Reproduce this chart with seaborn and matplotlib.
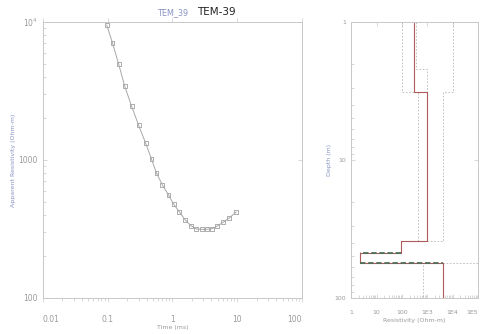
import numpy as np
import pandas as pd
import seaborn as sns
import matplotlib.pyplot as plt
from matplotlib.ticker import LogLocator, NullFormatter

# sounding curve (apparent resistivity vs time)
TIME_MS = [0.097, 0.119, 0.148, 0.183, 0.234, 0.30, 0.385, 0.475, 0.567, 0.70,
           0.87, 1.04, 1.28, 1.58, 1.96, 2.34, 2.9, 3.45, 4.12, 4.92, 6.09, 7.53, 9.65]
RHO_APP = [9510, 7040, 4960, 3440, 2460, 1790, 1330, 1015, 805, 659,
           557, 480, 420, 367, 332, 316, 314, 315, 318, 332, 354, 380, 420]

# layered model (resistivity per layer, depth of layer tops)
LAYER_TOPS = [1, 3.2, 38.5, 47, 55.6]
RHO_BEST = [300, 1000, 90, 2.3, 4000]
RHO_LOW = [100, 440, 90, 2.3, 700]
RHO_HIGH = [10000, 4000, 90, 2.3, 100000]
RHO_ALT = [370, 1000, 90, 2.3, 4000]
ALT_TOPS = [1, 2.2, 38.5, 47, 55.6]
MAX_DEPTH = 100

X_TICKS_L = [0.01, 0.1, 1, 10, 100]
X_LABELS_L = ["0.01", "0.1", "1", "10", "100"]
X_TICKS_R = [1, 10, 100, 1000, 10000, 100000]
X_LABELS_R = ["1", "10", "100", "1E3", "1E4", "1E5"]

SPINE = "#c8c8c8"
TXT = "#9a9a9a"
LBL = "#8a93c4"


def steps(rho, tops, bottom=MAX_DEPTH):
    xs, ys = [], []
    edges = list(tops) + [bottom]
    for i, r in enumerate(rho):
        xs += [r, r]
        ys += [edges[i], edges[i + 1]]
    return pd.DataFrame({"rho": xs, "depth": ys})


def style_axes(ax):
    ax.tick_params(which="both", top=True, right=True, direction="in", color=SPINE,
                   labelcolor=TXT, length=3, width=0.5)
    ax.tick_params(which="minor", length=2, top=False, right=False)
    ax.tick_params(axis="x", which="major", pad=9)
    for s in ax.spines.values():
        s.set_color(SPINE)
        s.set_linewidth(0.7)


sns.set_style("ticks")
plt.rcParams["font.family"] = ["DejaVu Sans"]

fig = plt.figure(figsize=(4.81, 3.34), dpi=100)
ax1 = fig.add_axes([0.089, 0.108, 0.539, 0.826])
ax2 = fig.add_axes([0.730, 0.108, 0.264, 0.826])

# left panel
curve = pd.DataFrame({"t": TIME_MS, "rho": RHO_APP})
sns.lineplot(data=curve, x="t", y="rho", ax=ax1, color="#a8a8a8", lw=0.7, sort=True)
sns.scatterplot(data=curve, x="t", y="rho", ax=ax1, marker="s", s=8,
                facecolor="none", edgecolor="#a0a0a0", linewidth=0.6)
ax1.set_xscale("log")
ax1.set_yscale("log")
ax1.set_xlim(0.01, 100)
ax1.set_ylim(100, 10000)
ax1.set_xticks(X_TICKS_L)
ax1.set_xticklabels(X_LABELS_L)
ax1.set_yticks([100, 1000, 10000])
ax1.set_yticklabels(["100", "1000", "10$^4$"])
ax1.set_xlabel("Time (ms)", fontsize=4.5, color=TXT, labelpad=1)
ax1.set_ylabel("Apparent Resistivity (Ohm-m)", fontsize=4.5, color=LBL, labelpad=2)
style_axes(ax1)
ax1.tick_params(labelsize=5.5)
ax1.tick_params(axis="x", which="both", direction="out")
labs = ax1.get_xticklabels()
labs[0].set_ha("left")
labs[-1].set_ha("right")

# right panel
for rho, tops in [(RHO_LOW, LAYER_TOPS), (RHO_HIGH, LAYER_TOPS), (RHO_ALT, ALT_TOPS)]:
    d = steps(rho, tops)
    sns.lineplot(data=d, x="rho", y="depth", ax=ax2, sort=False, estimator=None,
                 color="#b8b8b8", lw=0.6, linestyle=(0, (2, 2)))
best = steps(RHO_BEST, LAYER_TOPS)
sns.lineplot(data=best, x="rho", y="depth", ax=ax2, sort=False, estimator=None,
             color="#b05a5a", lw=0.8)
for i in [3, 4]:
    seg = pd.DataFrame({"rho": [RHO_BEST[i - 1], RHO_BEST[i]],
                        "depth": [LAYER_TOPS[i], LAYER_TOPS[i]]})
    sns.lineplot(data=seg, x="rho", y="depth", ax=ax2, sort=False, estimator=None,
                 color="#4f6f5a", lw=1.3, linestyle=(0, (3, 1.5)))
ax2.set_xscale("log")
ax2.set_yscale("log")
ax2.set_xlim(1, 100000)
ax2.set_ylim(MAX_DEPTH, 1)
ax2.set_xticks(X_TICKS_R)
ax2.set_xticklabels(X_LABELS_R)
ax2.xaxis.set_minor_locator(LogLocator(subs=np.arange(2, 10)))
ax2.xaxis.set_minor_formatter(NullFormatter())
ax2.set_yticks([1, 10, 100])
ax2.set_yticklabels(["1", "10", "100"])
ax2.set_xlabel("Resistivity (Ohm-m)", fontsize=4.5, color=TXT, labelpad=2)
ax2.set_ylabel("Depth (m)", fontsize=4.5, color=LBL, labelpad=2)
style_axes(ax2)
ax2.tick_params(labelsize=4.5)
ax2.get_xticklabels()[-1].set_ha("right")

fig.text(0.36, 0.955, "TEM_39", fontsize=6.5, color=LBL, ha="center", fontstretch="condensed")
fig.text(0.45, 0.955, "TEM-39", fontsize=7.5, color="#222222", ha="center")

fig.savefig("out.png", dpi=100)
